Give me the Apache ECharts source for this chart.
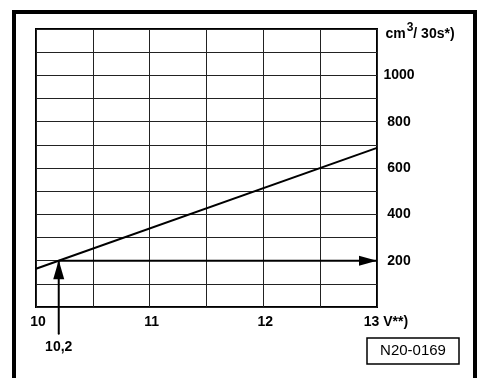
<!DOCTYPE html>
<html>
<head>
<meta charset="utf-8">
<script src="https://cdn.jsdelivr.net/npm/echarts@6/dist/echarts.min.js"></script>
<style>
html,body{margin:0;padding:0;background:#fff;}
#c{width:481px;height:378px;}
</style>
</head>
<body>
<div id="c"></div>
<script>
// Data
const voltage = [10, 13];            // V
const flow = [165, 687];             // cm3 / 30 s
const readVoltage = 10.2;            // reading example
const readFlow = 200;
const arrowBase = -115;              // vertical arrow starts below the axis
const xLabels = {10: '10', 11: '11', 12: '12', 13: '13 V**)'};
const yLabels = {200: '200', 400: '400', 600: '600', 800: '800', 1000: '1000'};
const drawingId = 'N20-0169';

const chart = echarts.init(document.getElementById('c'), null, {renderer: 'canvas'});
const font = 'Liberation Sans, Arial, Helvetica, sans-serif';

const option = {
  backgroundColor: '#fff',
  animation: false,
  grid: {left: 36, right: 104, top: 29, bottom: 71, show: true, borderColor: '#000', borderWidth: 2, containLabel: false},
  xAxis: {
    type: 'value', min: 10, max: 13, interval: 0.5,
    axisLine: {show: false}, axisTick: {show: false},
    splitLine: {show: true, lineStyle: {color: '#222', width: 1}},
    axisLabel: {
      margin: 8, color: '#000', fontFamily: font, fontWeight: 'bold', fontSize: 14,
      padding: [0, 0, 0, 4],
      formatter: v => {
        if (v === 13) return '{e|' + xLabels[v] + '}';
        return xLabels[v] !== undefined ? xLabels[v] : '';
      },
      rich: {e: {padding: [0, 0, 0, 14], fontFamily: font, fontWeight: 'bold', fontSize: 14, color: '#000'}}
    }
  },
  yAxis: {
    type: 'value', position: 'right', min: 0, max: 1200, interval: 100,
    axisLine: {show: false}, axisTick: {show: false},
    splitLine: {show: true, lineStyle: {color: '#222', width: 1}},
    axisLabel: {
      margin: 22, align: 'center', color: '#000', fontFamily: font, fontWeight: 'bold', fontSize: 14,
      formatter: v => {
        if (v === 1200) return '{c|cm}{s|3}{a|/ 30s*)}';
        return yLabels[v] !== undefined ? yLabels[v] : '';
      },
      rich: {
        c: {fontFamily: font, fontWeight: 'bold', fontSize: 14, color: '#000', padding: [10, 0, 0, 42], verticalAlign: 'bottom'},
        a: {fontFamily: font, fontWeight: 'bold', fontSize: 14, color: '#000', padding: [10, 0, 0, 0], verticalAlign: 'bottom'},
        s: {fontFamily: font, fontWeight: 'bold', fontSize: 12, color: '#000', verticalAlign: 'top', padding: [5, 0, 0, 1]}
      }
    }
  },
  series: [
    {
      type: 'line', data: voltage.map((v, i) => [v, flow[i]]),
      symbol: 'none', lineStyle: {color: '#000', width: 2}, z: 5
    },
    {
      type: 'line', clip: false,
      data: [
        {value: [readVoltage, arrowBase], symbol: 'circle', symbolSize: 2,
         label: {show: true, position: 'bottom', distance: 5, formatter: String(readVoltage).replace('.', ','),
                 color: '#000', fontFamily: font, fontWeight: 'bold', fontSize: 14}},
        {value: [readVoltage, readFlow], symbol: 'triangle', symbolSize: [11, 19], symbolOffset: [0, 9]}
      ],
      showSymbol: true, itemStyle: {color: '#000'}, lineStyle: {color: '#000', width: 2}, z: 6
    },
    {
      type: 'line', clip: false,
      data: [
        {value: [readVoltage, readFlow], symbol: 'none'},
        {value: [voltage[1], readFlow], symbol: 'triangle', symbolSize: [10, 18], symbolRotate: -90, symbolOffset: [-9, 0]}
      ],
      showSymbol: true, itemStyle: {color: '#000'}, lineStyle: {color: '#000', width: 2}, z: 6
    }
  ],
  graphic: [
    {type: 'rect', shape: {x: 14, y: 12, width: 461, height: 420}, style: {fill: 'none', stroke: '#000', lineWidth: 4}, z: 100},
    {type: 'rect', shape: {x: 367, y: 338, width: 92, height: 26}, style: {fill: '#fff', stroke: '#000', lineWidth: 1.5}, z: 100},
    {type: 'text', x: 413, y: 351, style: {text: drawingId, fill: '#000', font: '15px ' + font, textAlign: 'center', textVerticalAlign: 'middle'}, z: 101}
  ]
};
chart.setOption(option);
</script>
</body>
</html>
